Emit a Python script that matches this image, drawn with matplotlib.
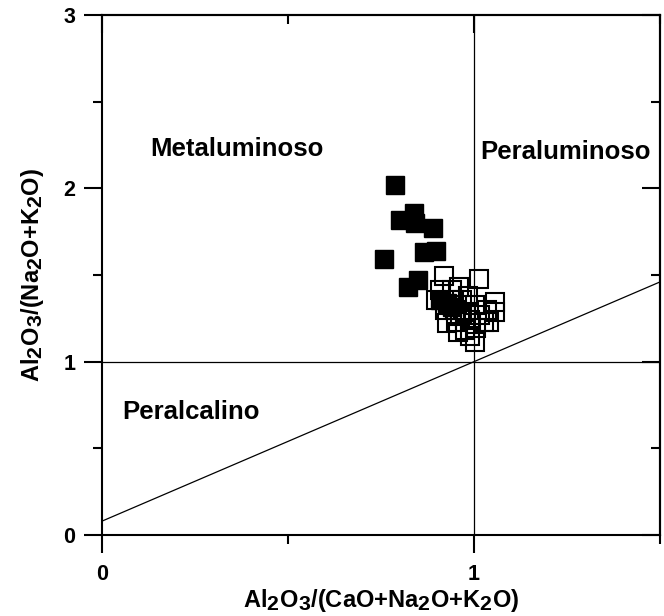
import matplotlib
matplotlib.use("Agg")
import matplotlib.pyplot as plt
from matplotlib.ticker import MultipleLocator
import matplotlib._mathtext as mt

# subscripts in the original are almost full size
mt.SHRINK_FACTOR = 0.9

plt.rcParams['font.family'] = ['Liberation Sans', 'DejaVu Sans']
plt.rcParams['font.weight'] = 'bold'
plt.rcParams['mathtext.fontset'] = 'custom'
plt.rcParams['mathtext.rm'] = 'Liberation Sans:bold'
plt.rcParams['mathtext.bf'] = 'Liberation Sans:bold'
plt.rcParams['mathtext.default'] = 'bf'

# filled squares (one group of samples)
filled_x = [0.788, 0.801, 0.839, 0.841, 0.890, 0.866, 0.898, 0.758, 0.849, 0.823,
            0.909, 0.927, 0.941]
filled_y = [2.02, 1.82, 1.86, 1.80, 1.77, 1.63, 1.64, 1.59, 1.47, 1.43,
            1.356, 1.339, 1.316]

# open squares (second group)
open_x = [0.919, 1.013, 0.960, 0.909, 0.941, 0.898, 0.968, 0.984, 1.056, 1.056,
          0.927, 0.952, 0.957, 1.003, 0.989, 1.016, 1.035, 1.027, 1.005, 0.976,
          0.949, 0.922, 0.978, 1.003, 0.962, 1.040, 0.989, 0.946]
open_y = [1.495, 1.477, 1.431, 1.414, 1.414, 1.356, 1.356, 1.379, 1.344, 1.287,
          1.223, 1.229, 1.171, 1.114, 1.241, 1.269, 1.298, 1.229, 1.194, 1.183,
          1.298, 1.298, 1.287, 1.327, 1.264, 1.229, 1.148, 1.356]

# dividing line between peralcalino and metaluminoso fields
line_x = [0, 1.5]
line_y = [0.08, 1.46]

# tick positions and labels
major_x = [0, 1]
major_y = [0, 1, 2, 3]

fig = plt.figure(figsize=(6.64, 6.16), dpi=100)
ax = fig.add_axes([102/664, 81/616, 558/664, 520/616])

ax.axvline(1, color='black', lw=0.9)
ax.axhline(1, color='black', lw=0.9)
ax.plot(line_x, line_y, color='black', lw=0.9)

ax.plot(filled_x, filled_y, 's', ms=13.5, color='black', mec='black', mew=1)
ax.plot(open_x, open_y, 's', ms=12.5, mfc='none', mec='black', mew=1.5)

ax.text(0.13, 2.187, 'Metaluminoso', fontsize=18.5, fontweight='bold', va='baseline')
ax.text(1.016, 2.17, 'Peraluminoso', fontsize=18.5, fontweight='bold', va='baseline')
ax.text(0.054, 0.669, 'Peralcalino', fontsize=18.5, fontweight='bold', va='baseline')

ax.set_xlim(0, 1.5)
ax.set_ylim(0, 3)
ax.set_xticks(major_x, [str(v) for v in major_x], fontsize=15.5, fontweight='bold')
ax.set_yticks(major_y, [str(v) for v in major_y], fontsize=15.5, fontweight='bold')
ax.xaxis.set_minor_locator(MultipleLocator(0.5))
ax.yaxis.set_minor_locator(MultipleLocator(0.5))

for s in ax.spines.values():
    s.set_linewidth(1.5)

ax.tick_params(which='major', direction='out', length=13, width=1.5,
               top=False, right=False)
ax.tick_params(which='minor', direction='out', length=6.5, width=1.5,
               top=False, right=False)
ax.tick_params(axis='x', which='major', pad=8)
ax.tick_params(axis='y', which='major', pad=6)

# inward ticks on top and right
ax2 = ax.secondary_xaxis('top')
ax2.xaxis.set_major_locator(MultipleLocator(1))
ax2.xaxis.set_minor_locator(MultipleLocator(0.5))
ax2.tick_params(which='major', direction='in', length=13, width=1.5, labeltop=False)
ax2.tick_params(which='minor', direction='in', length=6.5, width=1.5)
ax3 = ax.secondary_yaxis('right')
ax3.yaxis.set_major_locator(MultipleLocator(1))
ax3.yaxis.set_minor_locator(MultipleLocator(0.5))
ax3.tick_params(which='major', direction='in', length=13, width=1.5, labelright=False)
ax3.tick_params(which='minor', direction='in', length=6.5, width=1.5)
ax2.spines['top'].set_linewidth(1.5)
ax3.spines['right'].set_linewidth(1.5)

ax.set_xlabel('Al$_2$O$_3$/(CaO+Na$_2$O+K$_2$O)', fontsize=17, fontweight='bold')
ax.set_ylabel('Al$_2$O$_3$/(Na$_2$O+K$_2$O)', fontsize=17, fontweight='bold')
ax.xaxis.set_label_coords(0.5, -0.1)
ax.yaxis.set_label_coords(-0.1, 0.5)

fig.savefig('out.png', dpi=100)
